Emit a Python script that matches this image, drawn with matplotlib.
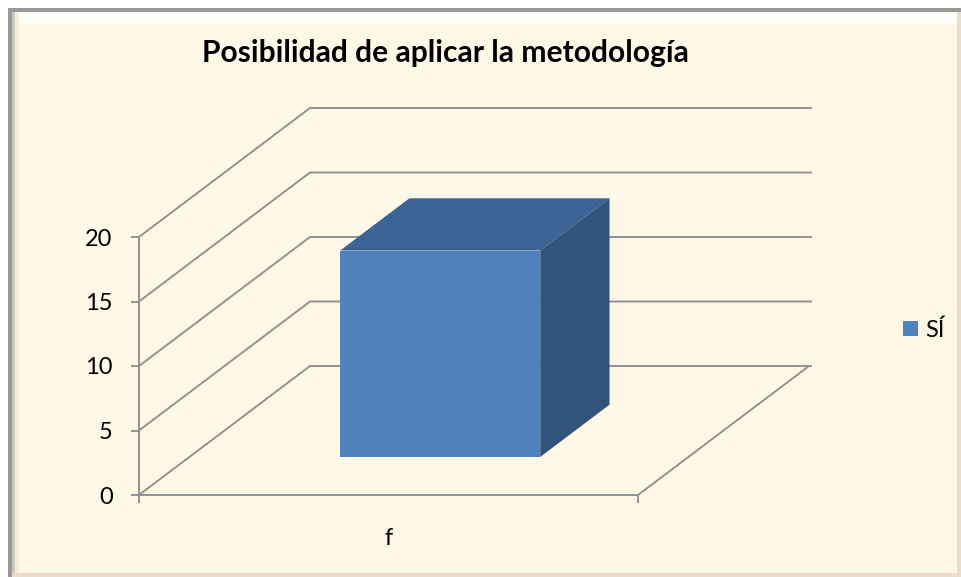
import matplotlib
matplotlib.use("Agg")
import matplotlib.pyplot as plt
from matplotlib.patches import Polygon, Rectangle

# --- Data -----------------------------------------------------------------

TITLE = "Posibilidad de aplicar la metodología"
categories = ["f"]
series_name = "SÍ"
si_values = [16]
y_ticks = [0, 5, 10, 15, 20]

# --- Layout (pixels of the 962x577 picture) -------------------------------

W, H = 962, 577
LEFT, RIGHT = 139, 638      # front edge of the floor
BOTTOM, TOP = 495, 237      # 0 and 20 on the front axis
DEPTH_X = 171 / (RIGHT - LEFT)   # whole depth in x units
DEPTH_Y = 10.0                   # whole depth in value units
BACK_END = 1 + (811 - 638) / (RIGHT - LEFT) - DEPTH_X  # grid runs a bit past the floor

GRID = "#929292"
BG = "#fff8e7"
FRONT = "#4f81bd"
TOP_FACE = "#3c6394"
SIDE = "#32547c"
LW = 1.4
FS = 17

plt.rcParams["font.family"] = ["Lato", "DejaVu Sans"]

fig = plt.figure(figsize=(W / 100, H / 100), dpi=100, facecolor="white")


def px(x0, y0, x1, y1, **kw):
    # rectangle in picture pixels, y from the top
    fig.patches.append(Rectangle((x0 / W, 1 - y1 / H), (x1 - x0) / W, (y1 - y0) / H,
                                 transform=fig.transFigure, lw=0, zorder=-1, **kw))


# frame with bevel
px(8, 8, W, H, color=BG)
px(8, 8, W, 12, color="#999999")
px(8, 8, 12, H, color="#999999")
px(12, 12, W, 24, color="#fffefa")
px(12, 12, 15, H, color="#cfc8bc")
px(15, 12, 19, H, color="#f6ecdc")
px(957, 12, W, H, color="#ecdccb")
px(12, 573, W, H, color="#ecdccb")
px(19, 24, 957, 573, color=BG)

ax = fig.add_axes([LEFT / W, 1 - BOTTOM / H, (RIGHT - LEFT) / W, (BOTTOM - TOP) / H])
ax.set_facecolor("none")
ax.set_xlim(0, len(categories))
ax.set_ylim(0, 20)


def proj(x, y, d):
    # x along the floor, y value, d depth from 0 (front) to 1 (back)
    return x + d * DEPTH_X, y + d * DEPTH_Y


# back wall and side wall grid lines
for t in y_ticks:
    a = proj(0, t, 0)
    b = proj(0, t, 1)
    c = proj(BACK_END, t, 1)
    ax.plot([a[0], b[0], c[0]], [a[1], b[1], c[1]], color=GRID, lw=LW,
            clip_on=False, zorder=1, solid_joinstyle="miter")

# floor front-right edge
a = proj(1, 0, 0)
b = proj(1, 0, 1)
ax.plot([a[0], b[0], proj(0, 0, 1)[0]], [a[1], b[1], b[1]], color=GRID, lw=LW,
        clip_on=False, zorder=1)

# the bar
x0, x1 = 0.302, 0.703
d0, d1 = 0.295, 0.70
for i, v in enumerate(si_values):
    xa, xb = i + x0, i + x1
    front = [proj(xa, 0, d0), proj(xb, 0, d0), proj(xb, v, d0), proj(xa, v, d0)]
    top = [proj(xa, v, d0), proj(xb, v, d0), proj(xb, v, d1), proj(xa, v, d1)]
    side = [proj(xb, 0, d0), proj(xb, 0, d1), proj(xb, v, d1), proj(xb, v, d0)]
    ax.add_patch(Polygon(side, closed=True, fc=SIDE, ec="none", clip_on=False, zorder=3))
    ax.add_patch(Polygon(top, closed=True, fc=TOP_FACE, ec="none", clip_on=False, zorder=3))
    ax.add_patch(Polygon(front, closed=True, fc=FRONT, ec="none", clip_on=False, zorder=4,
                         label=series_name))

# axes
for s in ["top", "right"]:
    ax.spines[s].set_visible(False)
for s in ["left", "bottom"]:
    ax.spines[s].set_color(GRID)
    ax.spines[s].set_linewidth(LW)
ax.set_yticks(y_ticks)
ax.set_xticks(range(len(categories) + 1))
ax.set_xticklabels([""] * (len(categories) + 1))
ax.tick_params(axis="both", color=GRID, width=LW, length=6, labelsize=FS, labelcolor="black")
ax.tick_params(axis="y", pad=13)
for i, c in enumerate(categories):
    ax.annotate(c, (i + 0.5, 0), xytext=(0, -50), xycoords="data", textcoords="offset pixels",
                ha="center", va="baseline", fontsize=FS)

fig.text(445 / W, 1 - 53 / H, TITLE, ha="center", va="center", fontsize=21.6,
         fontweight="bold", color="black")

leg = ax.legend(loc="center left", bbox_to_anchor=(903 / W, 1 - 330 / H),
                bbox_transform=fig.transFigure, frameon=False, fontsize=FS,
                handlelength=0.64, handleheight=0.64, handletextpad=0.3,
                borderpad=0, borderaxespad=0)

fig.savefig("out.png", dpi=100)
print("Saved out.png")
